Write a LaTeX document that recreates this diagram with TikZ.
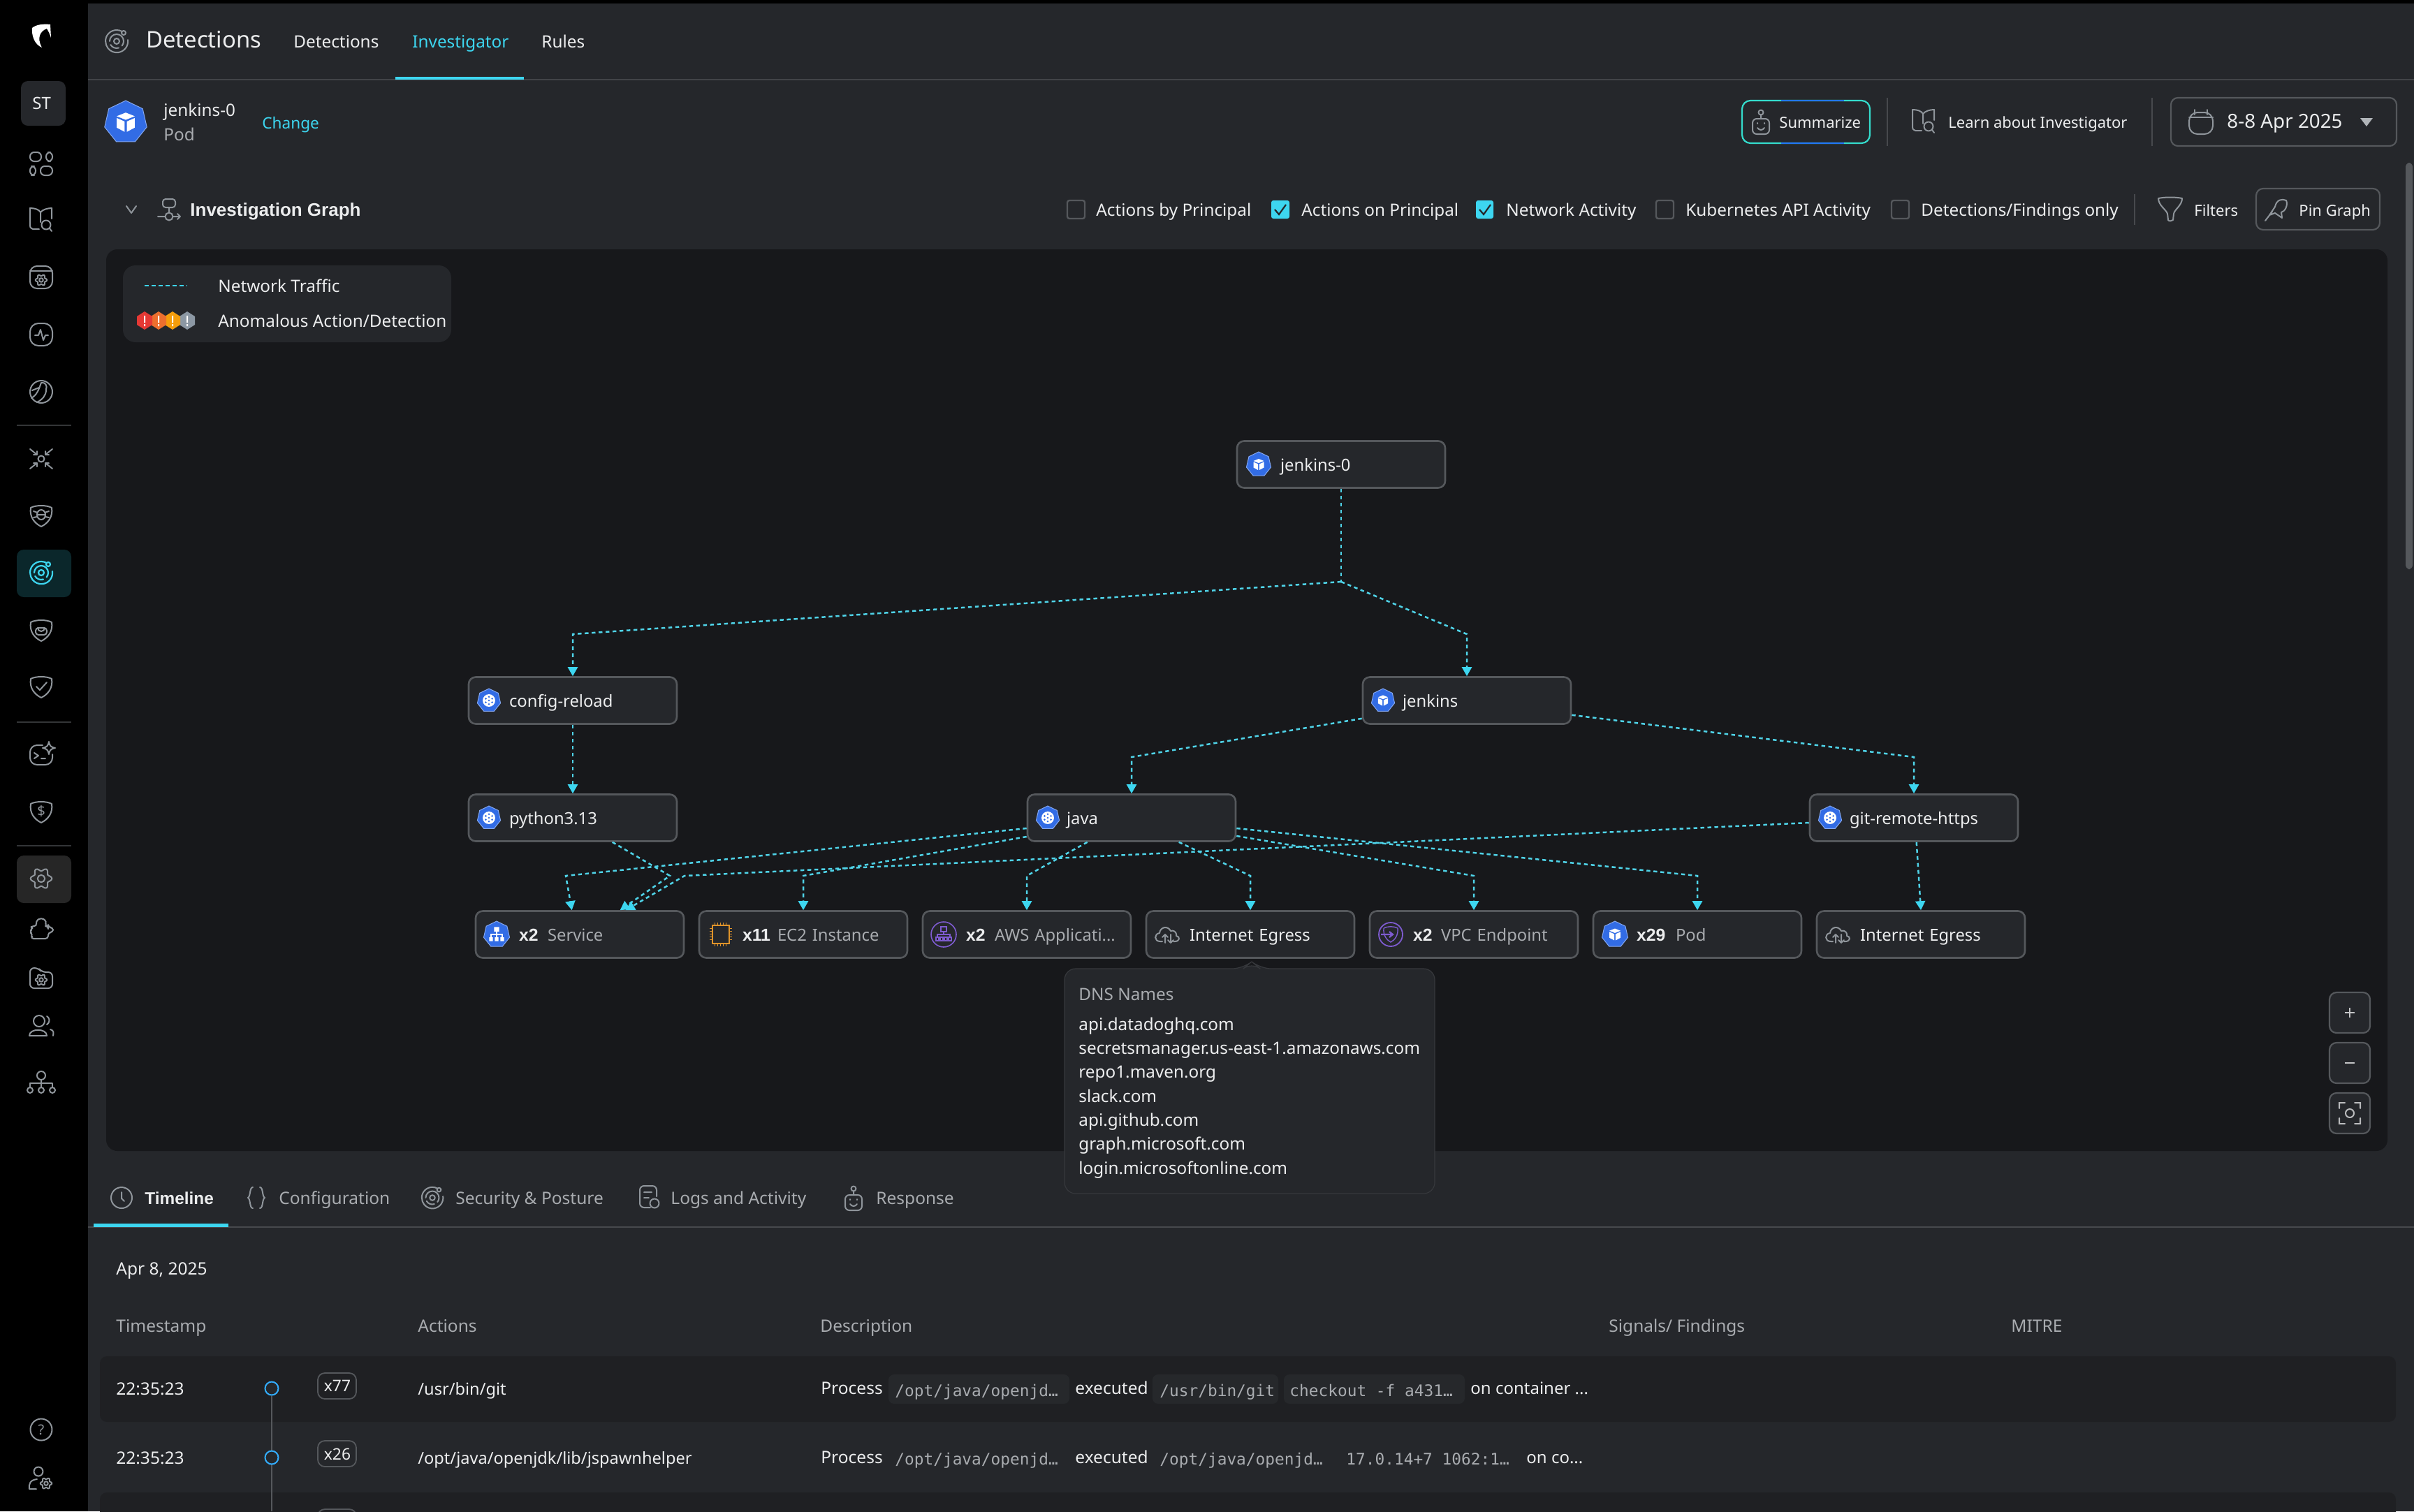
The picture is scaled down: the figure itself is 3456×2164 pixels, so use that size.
\documentclass[tikz,border=0pt]{standalone}
\usepackage{fontspec}
\setmainfont{Noto Sans}
\setmonofont{DejaVu Sans Mono}
\newfontfamily\bff{Liberation Sans}
\usetikzlibrary{calc,arrows.meta}
\definecolor{panel}{HTML}{25272B}
\definecolor{graphbg}{HTML}{17181B}
\definecolor{nodeedge}{HTML}{55585C}
\definecolor{teal}{HTML}{3DD6F0}
\definecolor{wire}{HTML}{4FD3E8}
\definecolor{hi}{HTML}{ECEDEE}
\definecolor{muted}{HTML}{A9ACB0}
\definecolor{icog}{HTML}{8F959B}
\definecolor{kblue}{HTML}{326CE5}
\definecolor{amzpurple}{HTML}{7E5BD0}
\definecolor{chiporange}{HTML}{E0942A}
\definecolor{rowdark}{HTML}{1F2023}
\definecolor{codebg}{HTML}{26282B}
\definecolor{hexred}{HTML}{E53935}
\definecolor{hexorange}{HTML}{EC6F2E}
\definecolor{hexamber}{HTML}{F59E0B}
\definecolor{hexgray}{HTML}{8C98A4}
\tikzset{
 lab/.style={anchor=west,inner sep=0pt,text height=12pt,text depth=3pt,text=hi,font=\fontsize{12.15}{15}\selectfont},
 mut/.style={text=muted},
 ttl/.style={font=\fontsize{16.4}{20}\selectfont},
 sm/.style={font=\fontsize{11}{14}\selectfont},
 tbl/.style={font=\fontsize{12.25}{15}\selectfont},
 bld/.style={font=\fontsize{13}{16}\bff\bfseries\selectfont},
 cod/.style={text=muted,font=\fontsize{11.4}{14}\ttfamily},
 gnode/.style={draw=nodeedge,fill=panel,line width=1.3pt,rounded corners=5pt,minimum width=149pt,minimum height=33.5pt,
   text width=149pt,inner xsep=0pt,inner ysep=0pt,align=left,text height=12pt,text depth=3pt,text=hi,font=\fontsize{11.9}{15}\selectfont},
 edge/.style={draw=wire,line width=1.25pt,dash pattern=on 2.7pt off 2.3pt},
 edgea/.style={edge,-{Triangle[length=6.5pt,width=7pt,fill=teal,color=teal]}},
 ic/.style={draw=icog,line width=1pt,line cap=round,line join=round},
 ctl/.style={draw=nodeedge,fill=panel,line width=1.1pt,rounded corners=5pt,minimum width=29pt,minimum height=29pt,inner sep=0pt},
 box/.style={draw=nodeedge,line width=1.1pt,rounded corners=5pt},
 cb/.style={draw=nodeedge,line width=1.2pt,rounded corners=1.5pt},
 cbon/.style={fill=teal,rounded corners=1.5pt},
}
\newcommand\bx[1]{{\bff\bfseries\fontsize{12.4}{15}\selectfont #1}}
\newcommand\lb[5]{\node[lab,#4] (#1) at (#2,#3) {#5};}
\newcommand\hept[4]{\begin{scope}[shift={(#1,#2)},scale=#3/18]
 \filldraw[fill=kblue,draw=kblue!60!white,line width=.5pt] plot[samples at={-90,-38.57,12.86,64.29,115.71,167.14,218.57}] ({18*cos(\x)},{18*sin(\x)}) -- cycle;
 #4\end{scope}}
\newcommand\cube{\fill[white] (0,-8)--(7.5,-5)--(0,-2)--(-7.5,-5)--cycle (-7.5,-3.5)--(-.9,-.6)--(-.9,8)--(-7.5,4.5)--cycle (7.5,-3.5)--(.9,-.6)--(.9,8)--(7.5,4.5)--cycle;}
\newcommand\wheel{\fill[white] (0,0) circle (9.5);\fill[kblue] (0,0) circle (1.5) (0,-5.5) circle (1.5) (4.8,-2.8) circle (1.5) (4.8,2.8) circle (1.5) (0,5.5) circle (1.5) (-4.8,2.8) circle (1.5) (-4.8,-2.8) circle (1.5);}
\newcommand\tree{\fill[white] (-3.5,-10) rectangle (3.5,-4) (-10,4) rectangle (-5,9) (-2.5,4) rectangle (2.5,9) (5,4) rectangle (10,9);\draw[white,line width=.7pt] (0,-4)--(0,4) (-7.5,4)--(-7.5,0)--(7.5,0)--(7.5,4);}
\newcommand\cloud[2]{\begin{scope}[shift={(#1,#2)}]\draw[ic] (-8,10) -- (-11,10) .. controls (-20,10) and (-20,-1) .. (-12,-2) .. controls (-11,-11) and (0,-13) .. (4,-5) .. controls (11,-7) and (13,0) .. (12,2) .. controls (18,3) and (17,10) .. (10,10) -- (8,10);
 \draw[ic] (-4,12)--(-4,0) (-8,4)--(-4,0)--(0,4) (4,0)--(4,12) (0,8)--(4,12)--(8,8);\end{scope}}
\newcommand\shield[2]{\begin{scope}[shift={(#1,#2)}]\draw[ic] (-15,-11) .. controls (-8,-15) and (8,-15) .. (15,-11) .. controls (17,2) and (10,11) .. (0,16) .. controls (-10,11) and (-17,2) .. (-15,-11) -- cycle;\end{scope}}
\newcommand\orbit[4]{\begin{scope}[shift={(#1,#2)},scale=#3]\draw[#4] (0,0) circle (4) (-10,0) arc (180:400:10) (3,9.5) arc (72:150:10);
 \draw[#4] (-16,0) arc (180:300:16) (16,-2) arc (-8:180:16) ;\draw[#4,fill=panel] (10,-12) circle (3);\end{scope}}
\newcommand\gearp[3]{\begin{scope}[shift={(#1,#2)}]\draw[ic] plot[domain=0:360,samples=49,smooth cycle] ({(#3+.18*#3*cos(6*\x))*cos(\x)},{(#3+.18*#3*cos(6*\x))*sin(\x)});\draw[ic] (0,0) circle ({#3*.4});\end{scope}}
\newcommand\book[2]{\begin{scope}[shift={(#1,#2)}]\draw[ic] (-3,15) -- (-12,15) .. controls (-16,13) and (-16,12) .. (-16,10) -- (-16,-15) .. controls (-9,-15) and (-3,-13) .. (-1,-9) .. controls (2,-13) and (9,-15) .. (15,-15) -- (15,0) (-1,-9)--(-1,5);\draw[ic] (7,9) circle (6.5) (12,14)--(15,18);\end{scope}}
\newcommand\robot[2]{\begin{scope}[shift={(#1,#2)}]\draw[ic] (0,-14) circle (3.5) (0,-10)--(0,-5);\draw[ic,rounded corners=3pt] (-12,-5) rectangle (12,17);\draw[ic] (-5,1)--(-5,2) (5,1)--(5,2) (-5,8) .. controls (-2,12) and (2,12) .. (5,8);\end{scope}}
\begin{document}
\begin{tikzpicture}[x=0.5pt,y=-0.5pt]
\useasboundingbox (0,0) rectangle (3456,2164);
\fill[black] (0,0) rectangle (3456,2164);
\fill[panel] (126,5) rectangle (3456,2164);
% sidebar
\fill[white] (46,40) .. controls (52,35) and (62,34) .. (72,35) -- (73,54) .. controls (71,48) and (69,44) .. (67,41) .. controls (58,44) and (52,54) .. (60,68) .. controls (50,64) and (45,52) .. (46,40) -- cycle;
\fill[panel,rounded corners=5pt] (30,116) rectangle (94,180);
\lb{st}{46}{147}{font=\fontsize{12}{15}\selectfont}{ST}
\begin{scope}[shift={(59,233)}]\draw[ic,rounded corners=3pt] (-16,-15) rectangle (0,-2) (7,-15) rectangle (16,-2) (-16,5) rectangle (-8,18) (-1,5) rectangle (16,18);\end{scope}
\book{59}{313}
\begin{scope}[shift={(59,397)}]\draw[ic,rounded corners=5pt] (-16,-16) rectangle (16,16);\draw[ic] (-16,-9)--(16,-9);\end{scope}\gearp{59}{401}{7}
\begin{scope}[shift={(59,479)}]\draw[ic,rounded corners=6pt] (-16,-16) rectangle (16,16);\draw[ic] (-9,1)--(-4,1)--(-1,-7)--(3,8)--(6,1)--(10,1);\end{scope}
\begin{scope}[shift={(59,561)}]\draw[ic] (0,0) circle (16);\draw[ic] (-14,9) .. controls (-6,4) and (-4,-2) .. (0,-13) .. controls (6,-14) and (9,-9) .. (7,-3) .. controls (7,5) and (2,11) .. (-6,15);\draw[ic] (-13,-2)--(-3,-6);\end{scope}
\draw[nodeedge!60!black,line width=.8pt] (24,609)--(102,609) (24,1034)--(102,1034) (24,1211)--(102,1211);
\begin{scope}[shift={(59,657)}]\draw[ic] (0,0) circle (4.5);\draw[ic] (-16,-14)--(-6,-6) (-11,-6)--(-6,-6)--(-6,-11) (16,-14)--(6,-6) (11,-6)--(6,-6)--(6,-11) (-16,14)--(-6,6) (-11,6)--(-6,6)--(-6,11) (16,14)--(6,6) (11,6)--(6,6)--(6,11);\end{scope}
\shield{59}{738}\begin{scope}[shift={(59,738)}]\draw[ic] (0,-1) ellipse (6 and 7) (-6,-1)--(6,-1) (-11,-6)--(-5,-4) (11,-6)--(5,-4) (-11,3)--(-6,2) (11,3)--(6,2);\end{scope}
\fill[teal!18!black,rounded corners=5pt] (24,787) rectangle (102,855);
\begin{scope}[shift={(59,820)}]\draw[teal,line width=1.1pt,line cap=round] (0,0) circle (4) (-10,0) arc (180:400:10) (3,9.5) arc (72:150:10) (-16,0) arc (180:300:16) (16,-2) arc (-8:180:16);\draw[teal,fill=teal!18!black,line width=1.1pt] (10,-12) circle (3);\end{scope}
\shield{59}{902}\begin{scope}[shift={(59,902)}]\draw[ic,rounded corners=2pt] (-8,-3) rectangle (8,7);\draw[ic] (-5,-3) arc (180:0:5);\end{scope}
\shield{59}{983}\draw[ic,shift={(59,983)}] (-7,0)--(-2,5)--(8,-6);
\begin{scope}[shift={(59,1080)}]\draw[ic,rounded corners=5pt] (2,-13)--(-16,-13)--(-16,15)--(16,15)--(16,0);\draw[ic] (-10,-2)--(-4,2)--(-10,6) (0,6)--(6,6);\draw[ic] (11,-18) .. controls (12,-12) and (14,-10) .. (20,-9) .. controls (14,-8) and (12,-6) .. (11,0) .. controls (10,-6) and (8,-8) .. (2,-9) .. controls (8,-10) and (10,-12) .. (11,-18);\end{scope}
\shield{59}{1162}\node[inner sep=0pt,text=icog,font=\fontsize{10}{12}\selectfont] (dollar) at (59,1161) {\$};
\fill[white!15!black,rounded corners=5pt] (24,1225) rectangle (102,1293);
\gearp{59}{1258}{13}
\begin{scope}[shift={(59,1330)}]\draw[ic,rounded corners=2pt] (-15,-4)--(-6,-4)--(-8,-11)--(0,-16)--(8,-11)--(5,-4)--(10,-4)--(10,-2)--(17,-2)--(17,5)--(10,5)--(10,14)--(-15,14)--(-12,8)--(-17,4)--(-12,0)--cycle;\end{scope}
\begin{scope}[shift={(59,1401)}]\draw[ic,rounded corners=3pt] (-16,-15)--(-4,-15)--(1,-9)--(16,-9)--(16,14)--(-16,14)--cycle;\end{scope}\gearp{59}{1403}{7}
\begin{scope}[shift={(59,1469)}]\draw[ic] (-3,-7) circle (8);\draw[ic] (8,-14) arc (-60:60:7);\draw[ic] (-17,14) .. controls (-17,3) and (8,3) .. (8,14) -- cycle;\draw[ic] (13,5) .. controls (18,6) and (18,10) .. (17,14);\end{scope}
\begin{scope}[shift={(59,1550)}]\draw[ic] (0,-10) circle (6) (-16,11) circle (4) (0,11) circle (4) (16,11) circle (4);\draw[ic] (0,-4)--(0,7) (-16,7)--(-16,1)--(16,1)--(16,7);\end{scope}
\begin{scope}[shift={(59,2047)}]\draw[ic] (0,0) circle (15.5);\end{scope}\node[inner sep=0pt,text=icog,font=\fontsize{10}{12}\selectfont] (helpq) at (59,2047) {?};
\begin{scope}[shift={(55,2117)}]\draw[ic] (0,-10) circle (6.5);\draw[ic] (-2,1) .. controls (-12,2) and (-14,8) .. (-13,15) -- (-3,15);\end{scope}\gearp{66}{2124}{7}
% header
\orbit{167}{59}{1}{ic}
\lb{title}{209}{59}{ttl}{Detections}
\lb{tabd}{420}{59}{}{Detections}
\lb{tabi}{590}{59}{text=teal}{Investigator}
\lb{tabr}{775}{59}{}{Rules}
\draw[nodeedge!60!panel,line width=1pt] (126,114)--(3456,114);
\fill[teal] (566,110) rectangle (750,114);
% pod line
\hept{180}{175}{31}{\cube}
\lb{podname}{234}{157}{}{jenkins-0}
\lb{podkind}{234}{192}{mut}{Pod}
\lb{change}{375}{175}{text=teal,font=\fontsize{11.3}{14}\selectfont}{Change}
% summarize
\draw[line width=1.1pt,draw=teal!85!green,rounded corners=6pt] (2494,144) rectangle (2677,205);
\draw[line width=1.2pt,draw=blue!45!teal] (2550,144)--(2640,144) (2550,205)--(2640,205);
\robot{2521}{175}
\lb{summ}{2547}{174}{sm}{Summarize}
\draw[nodeedge!70!panel,line width=.8pt] (2702,140)--(2702,209) (3081,140)--(3081,209) (3056,278)--(3056,322);
\book{2754}{172}
\lb{learn}{2789}{174}{sm}{Learn about Investigator}
\draw[box] (3108,140) rectangle (3431,209);
\begin{scope}[shift={(3151,175)}]\draw[ic,rounded corners=6pt] (-17,-14) rectangle (17,17);\draw[ic] (-17,-7)--(17,-7) (-9,-18)--(-9,-11) (9,-18)--(9,-11);\end{scope}
\lb{date}{3188}{174}{font=\fontsize{13.9}{17}\selectfont}{8-8 Apr 2025}
\fill[icog!70!white] (3379,169)--(3397,169)--(3388,181)--cycle;
\fill[nodeedge,rounded corners=3pt] (3444,233) rectangle (3454,815);
% section head
\draw[ic] (181,295)--(188,305)--(195,295);
\begin{scope}[shift={(242,300)}]\draw[ic,rounded corners=2pt] (-9,-15) rectangle (9,-3);\draw[ic] (0,-3)--(0,4) (0,10) circle (5.5) (-16,10)--(-6,10) (6,10)--(16,10) (12,6)--(16,10)--(12,14);\end{scope}
\lb{igraph}{272}{300}{bld}{Investigation Graph}
\draw[cb] (1528,287) rectangle (1553,313);
\lb{c1}{1569}{300}{}{Actions by Principal}
\fill[cbon] (1820,287) rectangle (1846,313);\draw[panel,line width=1.1pt] (1825,300)--(1831,307)--(1841,293);
\lb{c2}{1863}{300}{}{Actions on Principal}
\fill[cbon] (2113,287) rectangle (2138,313);\draw[panel,line width=1.1pt] (2118,300)--(2124,307)--(2134,293);
\lb{c3}{2156}{300}{}{Network Activity}
\draw[cb] (2371,287) rectangle (2396,313);
\lb{c4}{2413}{300}{}{Kubernetes API Activity}
\draw[cb] (2708,287) rectangle (2733,313);
\lb{c5}{2750}{300}{}{Detections/Findings only}
\begin{scope}[shift={(3107,300)}]\draw[ic] (-17,-16) .. controls (-8,-18) and (8,-18) .. (17,-16) .. controls (17,-6) and (6,0) .. (5,6) -- (4,15) .. controls (2,17) and (-2,17) .. (-3,15) -- (-4,6) .. controls (-6,0) and (-17,-6) .. (-17,-16) -- cycle;\end{scope}
\lb{filters}{3141}{300}{sm}{Filters}
\draw[box] (3230,270) rectangle (3407,329);
\begin{scope}[shift={(3259,300)}]\draw[ic] (-2,-4) .. controls (0,-14) and (8,-16) .. (14,-13) .. controls (17,-6) and (12,3) .. (7,4) -- (8,12) -- (-2,5) -- (-10,8) -- (-4,-1) -- cycle (-6,3)--(-16,16);\end{scope}
\lb{pin}{3291}{300}{sm}{Pin Graph}
% graph panel
\fill[graphbg,rounded corners=8pt] (152,357) rectangle (3418,1648);
% legend
\fill[panel,rounded corners=9pt] (176,380) rectangle (646,490);
\draw[teal,line width=1.1pt,dash pattern=on 3pt off 2pt] (207,409)--(268,409);
\lb{l1}{312}{409}{}{Network Traffic}
\foreach \xx/\cc in {268/hexgray,247/hexamber,227/hexorange,207/hexred}{
 \fill[\cc] (\xx,446)--(\xx+11,453)--(\xx+11,465)--(\xx,472)--(\xx-11,465)--(\xx-11,453)--cycle;
 \fill[white] (\xx-1,452) rectangle (\xx+1,462) (\xx-1,464) rectangle (\xx+1,467);}
\lb{l2}{312}{459}{}{Anomalous Action/Detection}
% graph nodes
\node[gnode] (j0) at (1920,665) {\hspace*{31pt}jenkins-0};
\node[gnode] (cfg) at (820,1003) {\hspace*{29pt}config-reload};
\node[gnode] (jen) at (2100,1003) {\hspace*{28.5pt}jenkins};
\node[gnode] (py) at (820,1171) {\hspace*{29pt}python3.13};
\node[gnode] (java) at (1620,1171) {\hspace*{28pt}java};
\node[gnode] (git) at (2740,1171) {\hspace*{28.5pt}git-remote-https};
\node[gnode] (svc) at (830,1338) {\hspace*{31pt}\makebox[20.5pt][l]{\bx{x2}}{\color{muted}Service}};
\node[gnode] (ec2) at (1150,1338) {\hspace*{31pt}\makebox[25pt][l]{\bx{x11}}{\color{muted}EC2 Instance}};
\node[gnode] (aws) at (1470,1338) {\hspace*{31pt}\makebox[20.5pt][l]{\bx{x2}}{\color{muted}AWS Applicati...}};
\node[gnode] (egr) at (1790,1338) {\hspace*{31pt}Internet Egress};
\node[gnode] (vpc) at (2110,1338) {\hspace*{31pt}\makebox[20pt][l]{\bx{x2}}{\color{muted}VPC Endpoint}};
\node[gnode] (pod) at (2430,1338) {\hspace*{31pt}\makebox[28pt][l]{\bx{x29}}{\color{muted}Pod}};
\node[gnode] (egb) at (2750,1338) {\hspace*{31pt}Internet Egress};
% node icons
\hept{1802}{665}{18}{\cube}
\hept{700}{1003}{17}{\wheel}
\hept{1980}{1003}{17}{\cube}
\hept{700}{1171}{17}{\wheel}
\hept{1500}{1171}{17}{\wheel}
\hept{2620}{1171}{17}{\wheel}
\hept{711}{1338}{19}{\tree}
\begin{scope}[shift={(1032,1338)}]\draw[chiporange,line width=1pt] (-12,-13) rectangle (12,13);\foreach \k in {-9,-5,-1,3,7}{\draw[chiporange,line width=.5pt] (\k,-17)--(\k,-13) (\k,13)--(\k,17) (-16,\k)--(-12,\k) (12,\k)--(16,\k);}\end{scope}
\begin{scope}[shift={(1351,1338)}]\draw[amzpurple,line width=.8pt] (0,0) circle (18);\draw[amzpurple,line width=.7pt] (-4,-11) rectangle (4,-4) (0,-4)--(0,0) (-9,4)--(-9,0)--(9,0)--(9,4) (-11,4) rectangle (-7,9) (-5,4) rectangle (-1,9) (1,4) rectangle (5,9) (7,4) rectangle (11,9);\end{scope}
\cloud{1672}{1338}
\begin{scope}[shift={(1991,1338)}]\draw[amzpurple,line width=.9pt] (0,0) circle (17);\draw[amzpurple,line width=.7pt] (-10,-9) .. controls (-4,-12) and (4,-12) .. (10,-9) .. controls (11,1) and (6,8) .. (0,11) .. controls (-6,8) and (-11,1) .. (-10,-9);\draw[amzpurple,line width=1.1pt] (-14,0)--(3,0) (-2,-4)--(3,0)--(-2,4);\end{scope}
\hept{2312}{1338}{19}{\cube}
\cloud{2632}{1338}
% edge way-points
\coordinate (b0) at (1920,833);
\coordinate (bc) at (820,908);
\coordinate (bj) at (2100,908);
\coordinate (bja) at (1620,1084);
\coordinate (bg) at (2740,1084);
\coordinate (bp) at (959,1254);
\coordinate (bs) at (810,1254);
\coordinate (be) at (1150,1254);
\coordinate (ba) at (1470,1254);
\coordinate (bi) at (1790,1254);
\coordinate (bv) at (2110,1254);
\coordinate (bq) at (2430,1254);
\coordinate (bt) at (980,1254);
% edges
\draw[edge] (j0.south) -- (b0);
\draw[edgea] (b0) -- (bc) -- (cfg.north);
\draw[edgea] (b0) -- (bj) -- (jen.north);
\draw[edgea] (cfg.south) -- (py.north);
\draw[edgea] ($(jen.south west)+(0,-9)$) -- (bja) -- (java.north);
\draw[edgea] ($(jen.south east)+(0,-14)$) -- (bg) -- (git.north);
\draw[edgea] ($(py.south west)+(207,0)$) -- (bp) -- ($(svc.north west)+(208,0)$);
\draw[edgea] ($(java.west)+(0,15)$) -- (bs) -- ($(svc.north west)+(139,0)$);
\draw[edgea] ($(java.west)+(0,27)$) -- (be) -- (ec2.north);
\draw[edgea] ($(java.south west)+(87,0)$) -- (ba) -- (aws.north);
\draw[edgea] ($(java.south west)+(218,0)$) -- (bi) -- (egr.north);
\draw[edgea] ($(java.east)+(0,26)$) -- (bv) -- (vpc.north);
\draw[edgea] ($(java.east)+(0,15)$) -- (bq) -- (pod.north);
\draw[edgea] ($(git.west)+(0,7)$) -- (bt) -- ($(svc.north west)+(216,0)$);
\draw[edgea] ($(git.south west)+(154,0)$) -- (egb.north);
% zoom controls
\node[ctl] (zin) at (3364,1450) {};\draw[hi!80!panel,line width=1pt] (3357,1450)--(3371,1450) (3364,1443)--(3364,1457);
\node[ctl] (zout) at (3364,1522) {};\draw[hi!80!panel,line width=1pt] (3357,1522)--(3371,1522);
\node[ctl] (zfit) at (3364,1594) {};
\begin{scope}[shift={(3364,1594)}]\draw[hi!75!panel,line width=1pt,line cap=round] (-15,-7)--(-15,-15)--(-7,-15) (7,-15)--(15,-15)--(15,-7) (15,7)--(15,15)--(7,15) (-7,15)--(-15,15)--(-15,7) (0,0) circle (6);\end{scope}
% lower tabs
\begin{scope}[shift={(174,1715)}]\draw[ic] (0,0) circle (15) (0,-8)--(0,1)--(4,5);\end{scope}
\lb{t1}{207}{1715}{font=\fontsize{12.2}{15}\bff\bfseries\selectfont}{Timeline}
\begin{scope}[shift={(367,1715)}]\draw[ic] (-5,-15) .. controls (-10,-15) and (-8,-2) .. (-12,0) .. controls (-8,2) and (-10,15) .. (-5,15) (5,-15) .. controls (10,-15) and (8,-2) .. (12,0) .. controls (8,2) and (10,15) .. (5,15);\end{scope}
\lb{t2}{399}{1715}{mut,tbl}{Configuration}
\orbit{619}{1715}{.95}{ic}
\lb{t3}{652}{1715}{mut,tbl}{Security \& Posture}
\begin{scope}[shift={(929,1713)}]\draw[ic,rounded corners=3pt] (2,16)--(-13,16)--(-13,-15)--(11,-15)--(11,0);\draw[ic] (-7,-6)--(4,-6) (-7,2)--(0,2) (8,10) circle (6.5);\end{scope}
\lb{t4}{960}{1715}{mut,tbl}{Logs and Activity}
\robot{1222}{1716}
\lb{t5}{1254}{1715}{mut,tbl}{Response}
\draw[nodeedge!70!panel,line width=1pt] (126,1757)--(3456,1757);
\fill[teal] (134,1752) rectangle (327,1757);
% table
\lb{dt}{166}{1816}{tbl}{Apr 8, 2025}
\lb{h1}{166}{1898}{mut,tbl}{Timestamp}
\lb{h2}{598}{1898}{mut,tbl}{Actions}
\lb{h3}{1174}{1898}{mut,tbl}{Description}
\lb{h4}{2303}{1898}{mut,tbl}{Signals/ Findings}
\lb{h5}{2879}{1898}{mut,tbl}{MITRE}
\fill[rowdark,rounded corners=5pt] (143,1942) rectangle (3430,2036);
\fill[rowdark,rounded corners=5pt] (143,2137) rectangle (3430,2200);
\draw[nodeedge,line width=.6pt] (389,1999)--(389,2164);
\node[draw=blue!40!cyan!80!white,line width=1pt,circle,minimum size=9.5pt,inner sep=0pt,fill=panel] (dot1) at (389,1988) {};
\node[draw=blue!40!cyan!80!white,line width=1pt,circle,minimum size=9.5pt,inner sep=0pt,fill=panel] (dot2) at (389,2087) {};
\lb{r1a}{166}{1988}{tbl}{22:35:23}
\draw[box,line width=.9pt] (455,1966) rectangle (510,2003);
\node[inner sep=0pt,text=hi,font=\fontsize{11.4}{14}\selectfont] (b1) at (483,1984) {x77};
\lb{r1b}{598}{1988}{font=\fontsize{11.8}{15}\selectfont}{/usr/bin/git}
\lb{r1c}{1175}{1987}{tbl}{Process}
\fill[codebg,rounded corners=4pt] (1272,1968) rectangle (1531,2010) (1650,1968) rectangle (1830,2010) (1838,1968) rectangle (2097,2010);
\lb{r1d}{1281}{1990}{cod}{/opt/java/openjd…}
\lb{r1e}{1539}{1987}{tbl}{executed}
\lb{r1f}{1660}{1990}{cod}{/usr/bin/git}
\lb{r1g}{1846}{1990}{cod}{checkout -f a431…}
\lb{r1h}{2105}{1987}{font=\fontsize{12}{15}\selectfont}{on container ...}
\lb{r2a}{166}{2087}{tbl}{22:35:23}
\draw[box,line width=.9pt] (455,2063) rectangle (510,2100);
\node[inner sep=0pt,text=hi,font=\fontsize{11.4}{14}\selectfont] (b2) at (483,2082) {x26};
\lb{r2b}{598}{2087}{font=\fontsize{11.8}{15}\selectfont}{/opt/java/openjdk/lib/jspawnhelper}
\lb{r2c}{1175}{2086}{tbl}{Process}
\lb{r2d}{1281}{2088}{cod}{/opt/java/openjd…}
\lb{r2e}{1539}{2086}{tbl}{executed}
\lb{r2f}{1660}{2088}{cod}{/opt/java/openjd…}
\lb{r2g}{1927}{2088}{cod}{17.0.14+7 1062:1…}
\lb{r2h}{2185}{2086}{font=\fontsize{12}{15}\selectfont}{on co...}
\draw[box,line width=.9pt] (455,2161) rectangle (510,2200);
% tooltip
\path[fill=panel,draw=nodeedge!35!panel,line width=.6pt,rounded corners=8pt] (1524,1387) -- (1780,1387) -- (1792,1377) -- (1804,1387) -- (2054,1387) -- (2054,1709) -- (1524,1709) -- cycle;
\lb{dns}{1544}{1423}{mut}{DNS Names}
\foreach \nm/\yy/\tx in {d1/1466/api.datadoghq.com,d2/1500/secretsmanager.us-east-1.amazonaws.com,d3/1534/repo1.maven.org,d4/1569/slack.com,d5/1603/api.github.com,d6/1637/graph.microsoft.com,d7/1672/login.microsoftonline.com}{
 \node[lab] (\nm) at (1544,\yy) {\tx};}
\end{tikzpicture}
\end{document}
